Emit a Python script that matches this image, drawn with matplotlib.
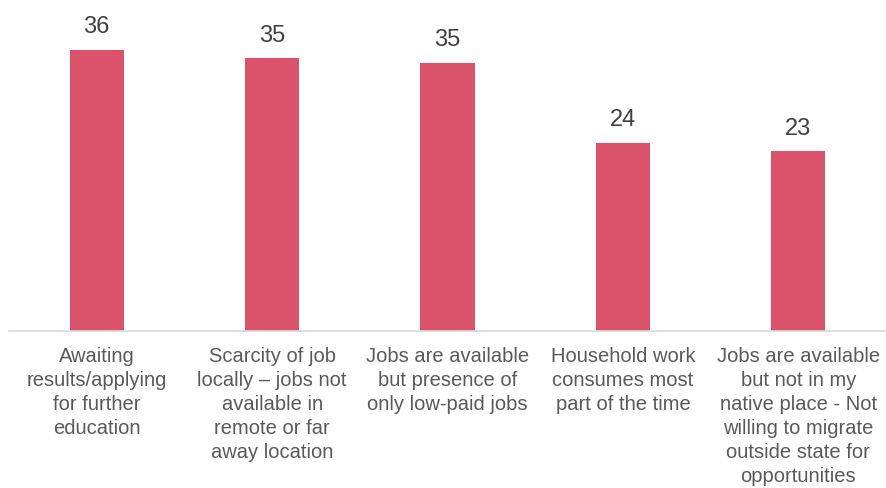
import matplotlib
matplotlib.use("Agg")
import matplotlib.pyplot as plt

plt.rcParams["font.family"] = ["Liberation Sans", "DejaVu Sans"]

categories = [
    "Awaiting\nresults/applying\nfor further\neducation",
    "Scarcity of job\nlocally \u2013 jobs not\navailable in\nremote or far\naway location",
    "Jobs are available\nbut presence of\nonly low-paid jobs",
    "Household work\nconsumes most\npart of the time",
    "Jobs are available\nbut not in my\nnative place - Not\nwilling to migrate\noutside state for\nopportunities",
]
values = [36.0, 34.9, 34.3, 24.1, 23.0]
value_labels = ["36", "35", "35", "24", "23"]

fig = plt.figure(figsize=(8.86, 4.88), dpi=100)
ax = fig.add_axes([9 / 886, 157.5 / 488, 877 / 886, 330.5 / 488])

x = list(range(len(categories)))
bars = ax.bar(x, values, width=0.31, color="#DB526B", zorder=2)

for xi, v, lab in zip(x, values, value_labels):
    ax.annotate(lab, (xi, v), xytext=(0, 12), textcoords="offset points",
                ha="center", va="baseline", fontsize=17, color="#404040")

ax.set_xlim(-0.5, len(categories) - 0.5)
ax.set_ylim(0, 42.4)
ax.set_xticks(x)
ax.set_xticklabels(categories, fontsize=14.5, color="#595959", linespacing=1.33)
ax.tick_params(axis="x", length=0, pad=12)
ax.set_yticks([])

for side in ["top", "right", "left"]:
    ax.spines[side].set_visible(False)
ax.spines["bottom"].set_color("#D9D9D9")
ax.spines["bottom"].set_linewidth(1.2)

fig.savefig("out.png", dpi=100)
